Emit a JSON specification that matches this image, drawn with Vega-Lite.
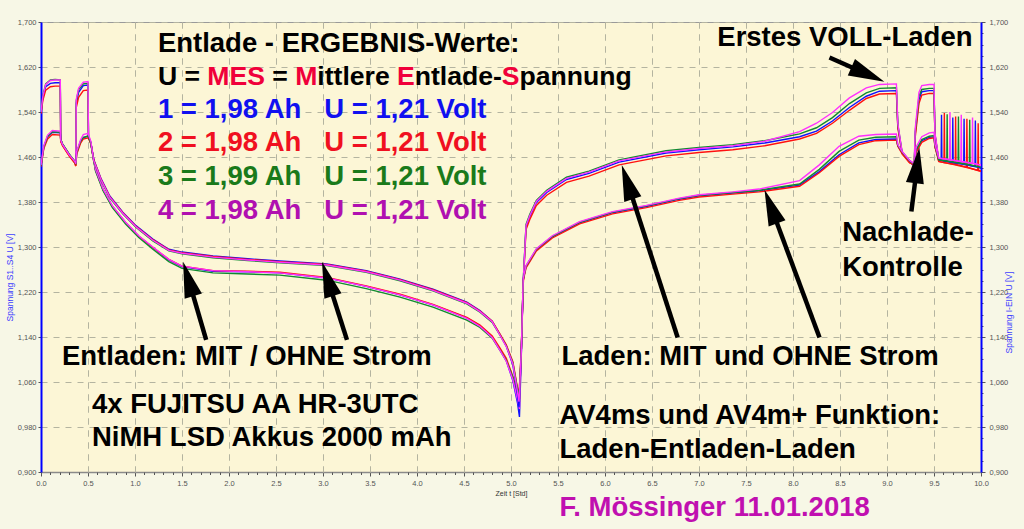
{
"$schema":"https://vega.github.io/schema/vega-lite/v6.json",
"width":940,"height":450,"autosize":"none",
"padding":{"left":41,"top":22,"right":43,"bottom":57},
"background":"#f7f7e6",
"config":{"view":{"fill":"#fcf6d6","stroke":"#9a9a9a","strokeWidth":1},"text":{"font":"Liberation Sans"}},
"datasets":{
"mit":[
{"t":0,"b":1.539,"r":1.537,"g":1.541,"m":1.540},
{"t":0.02,"b":1.566,"r":1.561,"g":1.569,"m":1.568},
{"t":0.05,"b":1.585,"r":1.579,"g":1.590,"m":1.589},
{"t":0.1,"b":1.591,"r":1.585,"g":1.597,"m":1.596},
{"t":0.15,"b":1.592,"r":1.586,"g":1.598,"m":1.597},
{"t":0.205,"b":1.592,"r":1.586,"g":1.597,"m":1.597},
{"t":0.21,"b":1.490,"r":1.488,"g":1.491,"m":1.490},
{"t":0.23,"b":1.482,"r":1.480,"g":1.483,"m":1.482},
{"t":0.3,"b":1.464,"r":1.462,"g":1.465,"m":1.464},
{"t":0.36,"b":1.452,"r":1.449,"g":1.452,"m":1.452},
{"t":0.37,"b":1.447,"r":1.444,"g":1.447,"m":1.448},
{"t":0.375,"b":1.555,"r":1.548,"g":1.560,"m":1.562},
{"t":0.4,"b":1.575,"r":1.566,"g":1.580,"m":1.582},
{"t":0.45,"b":1.587,"r":1.578,"g":1.590,"m":1.593},
{"t":0.5,"b":1.588,"r":1.579,"g":1.591,"m":1.594},
{"t":0.505,"b":1.497,"r":1.495,"g":1.497,"m":1.498},
{"t":0.53,"b":1.485,"r":1.484,"g":1.483,"m":1.486},
{"t":0.58,"b":1.437,"r":1.437,"g":1.435,"m":1.438},
{"t":0.66,"b":1.402,"r":1.402,"g":1.400,"m":1.403},
{"t":0.76,"b":1.372,"r":1.372,"g":1.370,"m":1.373},
{"t":0.9,"b":1.343,"r":1.343,"g":1.341,"m":1.344},
{"t":1.04,"b":1.319,"r":1.319,"g":1.317,"m":1.320},
{"t":1.19,"b":1.299,"r":1.299,"g":1.296,"m":1.300},
{"t":1.36,"b":1.277,"r":1.278,"g":1.274,"m":1.278},
{"t":1.5,"b":1.265,"r":1.266,"g":1.262,"m":1.266},
{"t":1.83,"b":1.257,"r":1.258,"g":1.254,"m":1.258},
{"t":2.2,"b":1.256,"r":1.257,"g":1.252,"m":1.256},
{"t":2.54,"b":1.254,"r":1.255,"g":1.250,"m":1.254},
{"t":3.04,"b":1.245,"r":1.246,"g":1.241,"m":1.245},
{"t":3.46,"b":1.230,"r":1.231,"g":1.226,"m":1.230},
{"t":3.82,"b":1.215,"r":1.216,"g":1.211,"m":1.215},
{"t":4.17,"b":1.197,"r":1.198,"g":1.193,"m":1.197},
{"t":4.53,"b":1.174,"r":1.175,"g":1.170,"m":1.173},
{"t":4.67,"b":1.160,"r":1.161,"g":1.157,"m":1.159},
{"t":4.8,"b":1.140,"r":1.142,"g":1.138,"m":1.139},
{"t":4.88,"b":1.118,"r":1.121,"g":1.117,"m":1.117},
{"t":4.95,"b":1.098,"r":1.102,"g":1.098,"m":1.097},
{"t":5.02,"b":1.062,"r":1.070,"g":1.068,"m":1.064},
{"t":5.07,"b":1.022,"r":1.040,"g":1.036,"m":1.028},
{"t":5.09,"b":0.998,"r":1.030,"g":1.025,"m":1.012},
{"t":5.11,"b":1.110,"r":1.118,"g":1.118,"m":1.115},
{"t":5.13,"b":1.237,"r":1.232,"g":1.240,"m":1.238},
{"t":5.16,"b":1.336,"r":1.331,"g":1.340,"m":1.338},
{"t":5.2,"b":1.354,"r":1.349,"g":1.358,"m":1.356},
{"t":5.27,"b":1.379,"r":1.374,"g":1.383,"m":1.381},
{"t":5.38,"b":1.397,"r":1.392,"g":1.401,"m":1.399},
{"t":5.59,"b":1.420,"r":1.415,"g":1.424,"m":1.422},
{"t":5.83,"b":1.431,"r":1.426,"g":1.435,"m":1.433},
{"t":6.15,"b":1.451,"r":1.446,"g":1.455,"m":1.453},
{"t":6.65,"b":1.467,"r":1.462,"g":1.471,"m":1.469},
{"t":7.0,"b":1.473,"r":1.468,"g":1.477,"m":1.475},
{"t":7.36,"b":1.478,"r":1.473,"g":1.482,"m":1.480},
{"t":7.7,"b":1.485,"r":1.480,"g":1.489,"m":1.488},
{"t":8.07,"b":1.496,"r":1.492,"g":1.501,"m":1.505},
{"t":8.25,"b":1.506,"r":1.502,"g":1.512,"m":1.520},
{"t":8.42,"b":1.524,"r":1.520,"g":1.530,"m":1.539},
{"t":8.6,"b":1.548,"r":1.543,"g":1.555,"m":1.565},
{"t":8.78,"b":1.568,"r":1.564,"g":1.574,"m":1.583},
{"t":8.92,"b":1.577,"r":1.572,"g":1.582,"m":1.589},
{"t":9.1,"b":1.578,"r":1.573,"g":1.583,"m":1.590},
{"t":9.115,"b":1.515,"r":1.512,"g":1.518,"m":1.520},
{"t":9.16,"b":1.468,"r":1.466,"g":1.469,"m":1.470},
{"t":9.24,"b":1.452,"r":1.450,"g":1.453,"m":1.454},
{"t":9.29,"b":1.444,"r":1.446,"g":1.447,"m":1.448},
{"t":9.3,"b":1.500,"r":1.495,"g":1.505,"m":1.510},
{"t":9.34,"b":1.562,"r":1.555,"g":1.568,"m":1.575},
{"t":9.37,"b":1.576,"r":1.570,"g":1.580,"m":1.587},
{"t":9.45,"b":1.578,"r":1.573,"g":1.582,"m":1.589},
{"t":9.5,"b":1.578,"r":1.573,"g":1.582,"m":1.589},
{"t":9.51,"b":1.500,"r":1.498,"g":1.501,"m":1.503},
{"t":9.55,"b":1.455,"r":1.452,"g":1.455,"m":1.458},
{"t":9.576,"b":1.454},{"t":9.58,"b":1.535},{"t":9.584,"b":1.454},
{"t":9.606,"r":1.450},{"t":9.61,"r":1.538},{"t":9.614,"r":1.450},
{"t":9.636,"g":1.453},{"t":9.64,"g":1.536},{"t":9.644,"g":1.453},
{"t":9.65,"b":1.452,"r":1.449,"g":1.453,"m":1.456},
{"t":9.666,"m":1.455},{"t":9.67,"m":1.540},{"t":9.674,"m":1.455},
{"t":9.696,"b":1.450},{"t":9.7,"b":1.530},{"t":9.704,"b":1.450},
{"t":9.726,"r":1.447},{"t":9.73,"r":1.532},{"t":9.734,"r":1.447},
{"t":9.756,"g":1.450},{"t":9.76,"g":1.532},{"t":9.764,"g":1.450},
{"t":9.786,"m":1.452},{"t":9.79,"m":1.535},{"t":9.794,"m":1.452},
{"t":9.8,"b":1.448,"r":1.444,"g":1.449,"m":1.452},
{"t":9.816,"b":1.447},{"t":9.82,"b":1.528},{"t":9.824,"b":1.447},
{"t":9.846,"r":1.442},{"t":9.85,"r":1.528},{"t":9.854,"r":1.442},
{"t":9.876,"g":1.446},{"t":9.88,"g":1.526},{"t":9.884,"g":1.446},
{"t":9.906,"m":1.449},{"t":9.91,"m":1.530},{"t":9.914,"m":1.449},
{"t":9.936,"b":1.443},{"t":9.94,"b":1.525},{"t":9.944,"b":1.443},
{"t":9.966,"r":1.436},{"t":9.97,"r":1.520},{"t":9.974,"r":1.436},
{"t":10.0,"b":1.440,"r":1.434,"g":1.441,"m":1.445}
],
"ohne":[
{"t":0,"b":1.445,"r":1.443,"g":1.445,"m":1.446},
{"t":0.03,"b":1.478,"r":1.475,"g":1.478,"m":1.480},
{"t":0.07,"b":1.496,"r":1.492,"g":1.497,"m":1.499},
{"t":0.12,"b":1.504,"r":1.500,"g":1.505,"m":1.507},
{"t":0.205,"b":1.503,"r":1.499,"g":1.504,"m":1.506},
{"t":0.21,"b":1.490,"r":1.488,"g":1.491,"m":1.490},
{"t":0.23,"b":1.482,"r":1.480,"g":1.483,"m":1.482},
{"t":0.3,"b":1.464,"r":1.462,"g":1.465,"m":1.464},
{"t":0.36,"b":1.452,"r":1.449,"g":1.452,"m":1.452},
{"t":0.37,"b":1.447,"r":1.444,"g":1.447,"m":1.448},
{"t":0.38,"b":1.468,"r":1.465,"g":1.468,"m":1.470},
{"t":0.42,"b":1.487,"r":1.484,"g":1.488,"m":1.490},
{"t":0.45,"b":1.494,"r":1.492,"g":1.495,"m":1.500},
{"t":0.5,"b":1.497,"r":1.494,"g":1.497,"m":1.502},
{"t":0.53,"b":1.486,"r":1.485,"g":1.486,"m":1.488},
{"t":0.56,"b":1.456,"r":1.455,"g":1.453,"m":1.454},
{"t":0.64,"b":1.421,"r":1.420,"g":1.418,"m":1.419},
{"t":0.73,"b":1.391,"r":1.390,"g":1.388,"m":1.389},
{"t":0.87,"b":1.362,"r":1.361,"g":1.359,"m":1.360},
{"t":1.01,"b":1.338,"r":1.337,"g":1.335,"m":1.336},
{"t":1.19,"b":1.314,"r":1.313,"g":1.311,"m":1.312},
{"t":1.36,"b":1.296,"r":1.295,"g":1.293,"m":1.294},
{"t":1.5,"b":1.291,"r":1.290,"g":1.288,"m":1.289},
{"t":1.83,"b":1.284,"r":1.283,"g":1.281,"m":1.282},
{"t":2.2,"b":1.279,"r":1.278,"g":1.276,"m":1.277},
{"t":2.54,"b":1.275,"r":1.274,"g":1.272,"m":1.273},
{"t":3.04,"b":1.270,"r":1.269,"g":1.267,"m":1.268},
{"t":3.46,"b":1.258,"r":1.257,"g":1.255,"m":1.256},
{"t":3.82,"b":1.243,"r":1.242,"g":1.240,"m":1.241},
{"t":4.17,"b":1.225,"r":1.224,"g":1.222,"m":1.223},
{"t":4.53,"b":1.202,"r":1.201,"g":1.199,"m":1.200},
{"t":4.67,"b":1.187,"r":1.186,"g":1.184,"m":1.185},
{"t":4.8,"b":1.168,"r":1.168,"g":1.166,"m":1.167},
{"t":4.88,"b":1.145,"r":1.146,"g":1.144,"m":1.144},
{"t":4.95,"b":1.124,"r":1.126,"g":1.124,"m":1.123},
{"t":5.02,"b":1.090,"r":1.096,"g":1.094,"m":1.092},
{"t":5.06,"b":1.048,"r":1.058,"g":1.056,"m":1.052},
{"t":5.085,"b":1.015,"r":1.036,"g":1.033,"m":1.025},
{"t":5.11,"b":1.112,"r":1.118,"g":1.118,"m":1.115},
{"t":5.13,"b":1.242,"r":1.240,"g":1.243,"m":1.244},
{"t":5.16,"b":1.265,"r":1.263,"g":1.266,"m":1.267},
{"t":5.27,"b":1.295,"r":1.293,"g":1.296,"m":1.297},
{"t":5.44,"b":1.318,"r":1.316,"g":1.319,"m":1.320},
{"t":5.73,"b":1.343,"r":1.341,"g":1.344,"m":1.345},
{"t":6.08,"b":1.361,"r":1.359,"g":1.362,"m":1.363},
{"t":6.44,"b":1.372,"r":1.370,"g":1.373,"m":1.374},
{"t":6.79,"b":1.385,"r":1.383,"g":1.386,"m":1.387},
{"t":7.0,"b":1.391,"r":1.389,"g":1.392,"m":1.393},
{"t":7.36,"b":1.396,"r":1.394,"g":1.397,"m":1.398},
{"t":7.64,"b":1.400,"r":1.398,"g":1.401,"m":1.403},
{"t":8.07,"b":1.410,"r":1.408,"g":1.412,"m":1.418},
{"t":8.28,"b":1.434,"r":1.432,"g":1.438,"m":1.446},
{"t":8.49,"b":1.464,"r":1.461,"g":1.470,"m":1.479},
{"t":8.7,"b":1.485,"r":1.482,"g":1.490,"m":1.497},
{"t":8.88,"b":1.491,"r":1.489,"g":1.495,"m":1.500},
{"t":9.1,"b":1.492,"r":1.490,"g":1.496,"m":1.501},
{"t":9.115,"b":1.480,"r":1.479,"g":1.481,"m":1.482},
{"t":9.16,"b":1.468,"r":1.466,"g":1.469,"m":1.470},
{"t":9.24,"b":1.452,"r":1.450,"g":1.453,"m":1.454},
{"t":9.29,"b":1.444,"r":1.446,"g":1.447,"m":1.448},
{"t":9.31,"b":1.470,"r":1.468,"g":1.473,"m":1.478},
{"t":9.37,"b":1.489,"r":1.486,"g":1.491,"m":1.496},
{"t":9.45,"b":1.495,"r":1.493,"g":1.497,"m":1.503},
{"t":9.5,"b":1.496,"r":1.494,"g":1.498,"m":1.504},
{"t":9.51,"b":1.480,"r":1.478,"g":1.481,"m":1.483},
{"t":9.55,"b":1.455,"r":1.452,"g":1.455,"m":1.458},
{"t":9.7,"b":1.450,"r":1.447,"g":1.451,"m":1.454},
{"t":9.85,"b":1.446,"r":1.441,"g":1.447,"m":1.450},
{"t":10.0,"b":1.441,"r":1.435,"g":1.442,"m":1.446}
],
"arrows":[
{"t":1.757,"v":1.135,"t2":1.573,"v2":1.240,"tt":1.512,"tv":1.274,"ang":343.6},
{"t":3.255,"v":1.135,"t2":3.054,"v2":1.240,"tt":2.989,"tv":1.274,"ang":342.2},
{"t":6.773,"v":1.139,"t2":6.243,"v2":1.413,"tt":6.178,"tv":1.446,"ang":342.1},
{"t":8.282,"v":1.139,"t2":7.771,"v2":1.369,"tt":7.697,"tv":1.402,"ang":339.6},
{"t":8.388,"v":1.637,"t2":8.778,"v2":1.608,"tt":8.972,"tv":1.594,"ang":113.6},
{"t":9.259,"v":1.363,"t2":9.318,"v2":1.441,"tt":9.344,"tv":1.477,"ang":7.1}
]
},
"layer":[
{"data":{"name":"mit"},
 "transform":[{"fold":["b","r","g","m"],"as":["cell","v"]},{"filter":"isValid(datum.v)"}],
 "mark":{"type":"line","strokeWidth":1.4,"clip":true},
 "encoding":{
  "x":{"field":"t","type":"quantitative","scale":{"domain":[0,10],"nice":false,"zero":false},
   "axis":{"values":[0,0.5,1,1.5,2,2.5,3,3.5,4,4.5,5,5.5,6,6.5,7,7.5,8,8.5,9,9.5,10],
    "format":".1f","labelOverlap":false,"tickSize":4,"tickColor":"#555555","tickWidth":1,
    "grid":true,"gridDash":[6,6],"gridWidth":1,"gridColor":"#b4b4a0",
    "domainColor":"#8a8a8a","domainWidth":1.5,
    "labelFont":"Liberation Sans","labelFontSize":7.5,"labelColor":"#555555","labelPadding":3,"labelFlush":false,
    "title":"Zeit  t  [Std]","titleFont":"Liberation Sans","titleFontSize":7,"titleFontWeight":"normal","titleColor":"#333333",
    "titleX":470,"titleY":21,"titleAnchor":"middle","titleAlign":"center","titleBaseline":"middle"}},
  "y":{"field":"v","type":"quantitative","scale":{"domain":[0.9,1.7],"nice":false,"zero":false},
   "axis":{"values":[0.9,0.98,1.06,1.14,1.22,1.3,1.38,1.46,1.54,1.62,1.7],
    "labelExpr":"replace(format(datum.value,'.3f'),'.',',')",
    "tickSize":3,"tickColor":"#555555",
    "grid":true,"gridColor":"#b4b4a0","gridDash":[6,6],"gridWidth":1,
    "domainColor":"#0000ff","domainWidth":2,
    "labelFont":"Liberation Sans","labelFontSize":7.5,"labelColor":"#555555","labelPadding":2,
    "title":"Spannung S1..S4  U  [V]","titleFont":"Liberation Sans","titleFontSize":8.5,"titleFontWeight":"normal","titleColor":"#4040ff",
    "titleAngle":270,"titleX":-32,"titleY":255,"titleAlign":"center","titleBaseline":"middle"}},
  "color":{"field":"cell","type":"nominal","scale":{"domain":["b","r","g","m"],"range":["#1010ff","#ff1010","#108a30","#ff30ff"]},"legend":null}
 }},
{"data":{"name":"ohne"},
 "transform":[{"fold":["b","r","g","m"],"as":["cell","v"]},{"filter":"isValid(datum.v)"}],
 "mark":{"type":"line","strokeWidth":1.4,"clip":true},
 "encoding":{
  "x":{"field":"t","type":"quantitative","scale":{"domain":[0,10],"nice":false,"zero":false},
   "axis":{"orient":"bottom","values":[0.1,0.2,0.3,0.4,0.6,0.7,0.8,0.9,1.1,1.2,1.3,1.4,1.6,1.7,1.8,1.9,2.1,2.2,2.3,2.4,2.6,2.7,2.8,2.9,3.1,3.2,3.3,3.4,3.6,3.7,3.8,3.9,4.1,4.2,4.3,4.4,4.6,4.7,4.8,4.9,5.1,5.2,5.3,5.4,5.6,5.7,5.8,5.9,6.1,6.2,6.3,6.4,6.6,6.7,6.8,6.9,7.1,7.2,7.3,7.4,7.6,7.7,7.8,7.9,8.1,8.2,8.3,8.4,8.6,8.7,8.8,8.9,9.1,9.2,9.3,9.4,9.6,9.7,9.8,9.9],
    "labels":false,"grid":false,"domain":false,"tickSize":2.5,"tickColor":"#555555","tickWidth":1,"title":null}},
  "y":{"field":"v","type":"quantitative","scale":{"domain":[0.9,1.7],"nice":false,"zero":false},
   "axis":{"orient":"right","values":[0.9,0.92,0.94,0.96,0.98,1,1.02,1.04,1.06,1.08,1.1,1.12,1.14,1.16,1.18,1.2,1.22,1.24,1.26,1.28,1.3,1.32,1.34,1.36,1.38,1.4,1.42,1.44,1.46,1.48,1.5,1.52,1.54,1.56,1.58,1.6,1.62,1.64,1.66,1.68,1.7],
    "labelExpr":"abs((datum.value-0.9)/0.08-round((datum.value-0.9)/0.08))<0.01 ? replace(format(datum.value,'.3f'),'.',',') : ''",
    "labelOverlap":false,
    "tickSize":{"condition":{"test":"abs((datum.value-0.9)/0.08-round((datum.value-0.9)/0.08))<0.01","value":4},"value":2},
    "tickColor":"#555555","grid":false,
    "domainColor":"#0000ff","domainWidth":2,
    "labelFont":"Liberation Sans","labelFontSize":7.5,"labelColor":"#555555","labelPadding":4,
    "title":"Spannung I-EIN  U  [V]","titleFont":"Liberation Sans","titleFontSize":8.5,"titleFontWeight":"normal","titleColor":"#4040ff",
    "titleAngle":270,"titleX":27,"titleY":290,"titleAlign":"center","titleBaseline":"middle"}},
  "color":{"field":"cell","type":"nominal","scale":{"domain":["b","r","g","m"],"range":["#1010ff","#ff1010","#108a30","#ff30ff"]},"legend":null}
 }},
{"data":{"name":"arrows"},
 "mark":{"type":"rule","color":"#000000","strokeWidth":4.5,"strokeCap":"butt"},
 "encoding":{
  "x":{"field":"t","type":"quantitative","scale":{"domain":[0,10],"nice":false,"zero":false},
   "axis":{"orient":"bottom","values":[0.5,1,1.5,2,2.5,3,3.5,4,4.5,5,5.5,6,6.5,7,7.5,8,8.5,9,9.5],
    "labels":false,"grid":false,"domain":false,"ticks":true,"tickSize":-450,"tickDash":[6,6],"tickColor":"#b4b4a0","tickWidth":1,"title":null,"zindex":0}},
  "y":{"field":"v","type":"quantitative","axis":null},
  "x2":{"field":"t2"},"y2":{"field":"v2"}}},
{"data":{"name":"arrows"},
 "mark":{"type":"point","shape":"M0,0L1,4L-1,4Z","filled":true,"color":"#000000","opacity":1,"size":324,"strokeWidth":0},
 "encoding":{
  "x":{"field":"tt","type":"quantitative","axis":null},"y":{"field":"tv","type":"quantitative","axis":null},
  "angle":{"field":"ang","type":"quantitative","scale":null}}},
{"data":{"values":[
 {"t":1.2434,"v":1.6614,"txt":"Entlade - ERGEBNIS-Werte:"},
 {"t":7.1945,"v":1.6721,"txt":"Erstes VOLL-Laden"},
 {"t":8.5228,"v":1.3254,"txt":"Nachlade-"},
 {"t":8.5228,"v":1.2632,"txt":"Kontrolle"},
 {"t":0.2232,"v":1.1050,"txt":"Entladen: MIT / OHNE Strom"},
 {"t":5.5367,"v":1.1050,"txt":"Laden: MIT und OHNE Strom"},
 {"t":0.5420,"v":1.0196,"txt":"4x FUJITSU AA HR-3UTC"},
 {"t":0.5420,"v":0.9610,"txt":"NiMH LSD Akkus 2000 mAh"},
 {"t":5.5154,"v":0.9999,"txt":"AV4ms und AV4m+ Funktion:"},
 {"t":5.5154,"v":0.9394,"txt":"Laden-Entladen-Laden"}]},
 "mark":{"type":"text","align":"left","baseline":"middle","font":"Liberation Sans","fontWeight":"bold","fontSize":27.5,"color":"#000000"},
 "encoding":{"x":{"field":"t","type":"quantitative","axis":null},"y":{"field":"v","type":"quantitative","axis":null},"text":{"field":"txt"}}},
{"data":{"values":[
 {"t":1.2434,"v":1.6028,"txt":"U ="},
 {"t":2.4612,"v":1.6028,"txt":"="},
 {"t":2.9394,"v":1.6028,"txt":"ittlere"},
 {"t":3.9756,"v":1.6028,"txt":"ntlade-"},
 {"t":5.0903,"v":1.6028,"txt":"pannung"}]},
 "mark":{"type":"text","align":"left","baseline":"middle","font":"Liberation Sans","fontWeight":"bold","fontSize":26.6,"color":"#000000"},
 "encoding":{"x":{"field":"t","type":"quantitative","axis":null},"y":{"field":"v","type":"quantitative","axis":null},"text":{"field":"txt"}}},
{"data":{"values":[
 {"t":1.7694,"v":1.6028,"txt":"MES"},
 {"t":2.7046,"v":1.6028,"txt":"M"},
 {"t":3.7875,"v":1.6028,"txt":"E"},
 {"t":4.9023,"v":1.6028,"txt":"S"}]},
 "mark":{"type":"text","align":"left","baseline":"middle","font":"Liberation Sans","fontWeight":"bold","fontSize":26.6,"color":"#f0003a"},
 "encoding":{"x":{"field":"t","type":"quantitative","axis":null},"y":{"field":"v","type":"quantitative","axis":null},"text":{"field":"txt"}}},
{"data":{"values":[{"t":1.2434,"v":1.5441,"txt":"1 = 1,98 Ah\u00a0\u00a0\u00a0U = 1,21 Volt"}]},
 "mark":{"type":"text","align":"left","baseline":"middle","font":"Liberation Sans","fontWeight":"bold","fontSize":27.5,"color":"#1010f0"},
 "encoding":{"x":{"field":"t","type":"quantitative","axis":null},"y":{"field":"v","type":"quantitative","axis":null},"text":{"field":"txt"}}},
{"data":{"values":[{"t":1.2434,"v":1.4854,"txt":"2 = 1,98 Ah\u00a0\u00a0\u00a0U = 1,21 Volt"}]},
 "mark":{"type":"text","align":"left","baseline":"middle","font":"Liberation Sans","fontWeight":"bold","fontSize":27.5,"color":"#f01020"},
 "encoding":{"x":{"field":"t","type":"quantitative","axis":null},"y":{"field":"v","type":"quantitative","axis":null},"text":{"field":"txt"}}},
{"data":{"values":[{"t":1.2434,"v":1.4250,"txt":"3 = 1,99 Ah\u00a0\u00a0\u00a0U = 1,21 Volt"}]},
 "mark":{"type":"text","align":"left","baseline":"middle","font":"Liberation Sans","fontWeight":"bold","fontSize":27.5,"color":"#1a7a1a"},
 "encoding":{"x":{"field":"t","type":"quantitative","axis":null},"y":{"field":"v","type":"quantitative","axis":null},"text":{"field":"txt"}}},
{"data":{"values":[{"t":1.2434,"v":1.3645,"txt":"4 = 1,98 Ah\u00a0\u00a0\u00a0U = 1,21 Volt"}]},
 "mark":{"type":"text","align":"left","baseline":"middle","font":"Liberation Sans","fontWeight":"bold","fontSize":27.5,"color":"#b010b0"},
 "encoding":{"x":{"field":"t","type":"quantitative","axis":null},"y":{"field":"v","type":"quantitative","axis":null},"text":{"field":"txt"}}},
{"data":{"values":[{"t":5.5154,"v":0.8365,"txt":"F. Mössinger 11.01.2018"}]},
 "mark":{"type":"text","align":"left","baseline":"middle","font":"Liberation Sans","fontWeight":"bold","fontSize":27.5,"color":"#c010b0"},
 "encoding":{"x":{"field":"t","type":"quantitative","axis":null},"y":{"field":"v","type":"quantitative","axis":null},"text":{"field":"txt"}}}
],
"resolve":{"axis":{"x":"independent","y":"independent"}}
}
